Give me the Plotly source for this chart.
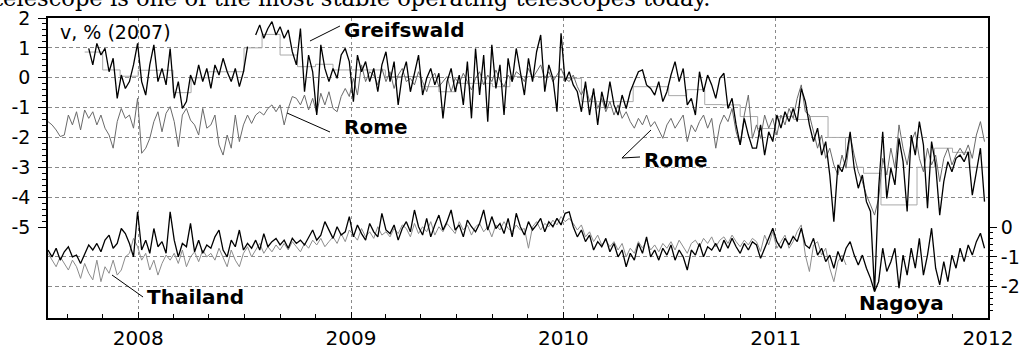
import pandas as pd
import plotly.graph_objects as go

# ---------------- data (weekly samples) ----------------
weeks = pd.date_range("2007-07-30", periods=231, freq="7D")

# Greifswald, v % relative to 2007 (left axis)
greifswald = [None] * 10 + [
    0.98, 0.43, 1.15, 0.76, 0.98, 0.20, 0.65, -0.69, 0.09, -0.36,
    -0.13, 0.43, 1.15, -0.13, -0.58, 0.43, 1.10, -0.13, 0.31, -0.24,
    0.98, -0.69, -0.13, -1.03, -0.80, 0.09, -0.24, 0.43, -0.13, 0.31,
    -0.36, 0.43, 0.09, 0.65, 0.20, -0.13, 0.31, -0.30, 0.20, 1.04,
    None, 1.43, 1.77, 1.32, 1.65, 1.88, 1.43, 1.71, 1.32, 1.60,
    0.87, 0.43, 1.65, -0.47, 0.76, 0.20, -1.25, 1.10, 0.31, -0.13,
    0.31, -0.02, 0.76, 0.98, 0.54, -0.80, 0.76, 0.20, 0.54, -0.13,
    0.31, -0.47, 0.43, 0.87, -0.13, 0.54, -0.91, 0.09, 0.54, -0.47,
    0.20, 0.76, -0.58, -0.02, 0.31, -0.24, 0.15, -1.36, -0.13, 0.31,
    -0.47, 0.09, -0.91, 0.54, -1.36, 0.98, -0.58, 0.76, -1.47, 1.10,
    -0.36, 0.43, -1.25, 0.65, -0.13, 0.98, 0.20, -0.58, 0.65, -0.13,
    0.87, 1.43, -0.47, 0.43, -0.02, -1.14, 1.49, -0.13, 0.20, -0.24,
    -0.47, -1.14, -0.13, -1.25, -0.36, -1.58, -0.47, -1.03, -0.13, -0.91,
    -1.25, -0.58, -1.03, -0.47, -0.13, 0.20, 0.26, -0.24, -0.36, -0.58,
    -0.13, -0.80, -0.47, 0.09, 0.54, -0.13, 0.31, -0.91, -0.69, -1.25,
    0.20, -0.47, 0.09, -0.24, -0.69, -0.02, 0.15, -1.03, -0.69, -1.58,
    -2.25, -1.36, -1.92, -2.36, -2.36, -1.58, -2.59, -1.81, -2.14, -1.25,
    -1.69, -1.14, -1.47, -1.03, -1.47, -0.36, -0.80, -1.58, -2.14, -1.69,
    -2.59, -2.14, -3.26, -4.82, -2.92, -3.15, -2.70, -1.81, -3.03, -3.70,
    -3.26, -4.15, -4.48, -7.16, -3.70, -1.81, -4.04, -3.03, -3.59, -2.03,
    -2.81, -4.48, -1.92, -2.59, -1.47, -2.25, -4.37, -2.14, -2.92, -4.60,
    -3.48, -2.81, -3.15, -2.70, -2.59, -2.81, -2.48, -3.93, -3.15, -2.36,
    -4.15,
]

# Rome, v % relative to 2007 (left axis)
rome = [
    -1.47, -1.58, -1.75, -1.97, -1.92, -1.25, -1.58, -1.14, -1.75, -1.08,
    -1.36, -1.14, -1.58, -1.25, -1.69, -1.92, -2.36, -1.47, -1.03, -1.36,
    -1.25, -1.69, -0.69, -2.53, -2.36, -2.03, -1.47, -1.14, -1.81, -1.19,
    -0.97, -1.47, -2.31, -1.25, -1.03, -1.42, -1.58, -1.92, -1.03, -1.69,
    -1.58, -1.25, -2.25, -2.59, -1.92, -2.36, -1.25, -2.14, -1.58, -1.25,
    -1.53, -1.25, -1.14, -1.25, -1.03, -0.91, -1.14, -0.91, -1.58, -1.03,
    -0.63, -0.69, -0.91, -0.58, -1.08, -0.69, -1.19, -0.52, -0.91, -0.47,
    -1.03, -1.14, -0.63, -0.36, -0.63, -0.02, -0.58, 0.43, -0.13, 0.20,
    0.09, -0.24, 0.31, -0.13, 0.20, -0.36, 0.09, 0.31, -0.13, -0.02,
    -0.24, 0.20, -0.13, -0.47, -0.02, 0.15, -0.30, -0.13, 0.04, -0.47,
    -0.02, -0.19, 0.15, -0.13, -0.41, -0.02, 0.20, -0.24, 0.09, -0.13,
    0.26, -0.08, -0.30, 0.09, -0.13, 0.20, 0.09, -0.13, 0.31, -0.02,
    0.20, 0.43, -0.02, 0.20, -0.13, 0.09, 0.31, -0.02, -0.13, 0.09,
    -0.30, -0.58, -0.24, -0.80, -0.47, -1.03, -0.69, -1.14, -0.80, -1.25,
    -0.91, -1.36, -1.14, -1.47, -1.69, -1.36, -1.58, -1.25, -1.64, -1.47,
    -1.75, -2.03, -1.58, -1.36, -1.69, -1.47, -1.25, -2.14, -1.58, -1.81,
    -1.47, -1.25, -1.69, -1.36, -2.36, -1.58, -1.25, -1.47, -1.03, -1.81,
    -2.25, -1.25, -0.58, -2.03, -1.58, -2.03, -1.25, -1.69, -1.36, -1.92,
    -1.25, -1.58, -1.03, -1.36, -0.69, -0.24, -1.14, -1.25, -1.81, -2.36,
    -1.92, -2.70, -2.36, -2.92, -3.26, -2.59, -3.03, -1.92, -2.59, -3.15,
    -3.48, -3.93, -4.26, -4.60, -4.04, -2.70, -3.26, -2.36, -3.03, -1.58,
    -2.36, -2.92, -2.14, -1.81, -2.70, -3.15, -2.36, -2.92, -2.59, -3.48,
    -2.70, -2.36, -2.92, -2.59, -2.36, -2.59, -2.25, -2.70, -1.92, -1.47,
    -2.14,
]

# Nagoya, v % (right axis)
nagoya = [
    -0.77, -1.00, -0.71, -1.11, -0.83, -0.66, -1.00, -0.94, -1.22, -0.88,
    -0.60, -0.77, -0.55, -0.83, -0.44, -0.27, -0.71, -0.55, -0.05, -0.22,
    -0.55, -1.00, 0.51, -0.77, -0.44, -0.88, -0.05, -0.66, -0.49, -0.88,
    0.51, -0.44, -1.00, -0.55, -0.66, 0.12, -0.83, -0.44, -0.88, -0.60,
    -0.71, -0.33, -0.10, -0.77, -1.00, -0.44, -0.66, -0.10, -0.77, -0.55,
    -0.71, -0.44, -0.77, -0.22, -0.66, -0.49, -0.38, -0.60, -0.44, -0.71,
    -0.38, -0.55, -0.44, -0.60, -0.33, -0.10, -0.44, -0.27, 0.18, -0.10,
    -0.38, 0.01, -0.27, -0.16, 0.35, -0.33, 0.07, -0.22, -0.44, 0.12,
    -0.16, -0.33, 0.46, -0.10, -0.22, 0.07, -0.44, -0.05, 0.18, -0.16,
    0.57, 0.01, -0.27, 0.29, -0.33, 0.07, 0.40, -0.10, 0.18, 0.57,
    -0.10, 0.07, -0.33, 0.23, 0.01, -0.16, 0.12, 0.57, -0.10, 0.35,
    -0.05, 0.12, -0.22, 0.29, -0.33, 0.46, 0.01, -0.27, 0.18, -0.10,
    0.07, 0.29, -0.16, 0.18, 0.01, 0.29, 0.07, 0.46, 0.51, 0.01,
    -0.33, -0.10, -0.49, -0.27, -0.77, -0.49, -0.66, -0.38, -0.83, -0.55,
    -1.00, -0.77, -1.33, -0.88, -1.11, -0.55, -0.88, -0.33, -1.00, -0.77,
    -1.11, -0.71, -0.94, -0.60, -1.11, -0.77, -1.00, -1.44, -0.77, -0.94,
    -0.55, -1.00, -0.66, -0.77, -0.55, -0.83, -0.44, -0.71, -0.38, -0.66,
    -0.88, -0.55, -0.77, -0.49, -0.60, -1.05, -0.71, -0.38, -0.04, -0.49,
    -0.71, -0.38, -0.60, -0.32, -0.49, -0.04, -0.60, -0.71, -0.38, -0.94,
    -0.71, -1.16, -0.94, -1.38, -0.82, -1.16, -0.71, -0.49, -0.94, -1.27,
    -0.94, -1.38, -1.72, -2.16, -1.83, -0.71, -1.49, -1.16, -0.71, -2.05,
    -0.94, -1.61, -0.71, -1.38, -0.38, -1.61, -0.94, -0.04, -1.38, -1.94,
    -1.16, -1.83, -0.94, -1.38, -0.71, -1.16, -0.60, -0.94, -0.49, -0.21,
    -0.71,
]

# Thailand, v % (right axis)
thailand = [
    -0.88, -1.11, -1.33, -1.00, -1.22, -1.44, -1.11, -1.33, -1.72, -1.22,
    -1.55, -1.77, -1.11, -1.83, -1.33, -1.55, -1.11, -1.61, -1.44, -1.00,
    -0.88, -0.38, -0.66, -1.11, -0.88, -1.44, -1.11, -1.61, -1.22, -0.94,
    -1.11, -0.88, -1.22, -0.77, -1.33, -1.00, -0.83, -1.16, -0.77, -1.00,
    -0.88, -1.11, -0.71, -1.00, -1.33, -0.77, -1.11, -1.33, -0.88, -0.66,
    -1.00, -0.77, -0.55, -0.88, -0.66, -0.83, -0.60, -0.77, -0.55, -0.77,
    -0.49, -0.66, -0.83, -0.55, -0.71, -0.44, -0.60, -0.38, -0.66, -0.49,
    -0.33, -0.55, -0.22, -0.49, -0.10, -0.27, -0.44, -0.05, -0.33, -0.16,
    -0.38, 0.01, -0.27, -0.16, -0.33, -0.05, -0.22, 0.07, -0.05, -0.33,
    0.12, -0.22, 0.01, -0.16, 0.18, -0.27, 0.01, -0.16, 0.12, -0.05,
    -0.22, 0.18, -0.10, 0.07, -0.27, 0.01, 0.12, -0.16, 0.01, -0.33,
    0.07, -0.10, 0.18, -0.05, -0.16, 0.07, -0.10, -0.05, -0.71, 0.01,
    0.18, -0.10, 0.12, 0.01, 0.23, 0.07, 0.35, 0.18, 0.29, 0.12,
    -0.10, 0.07, -0.33, -0.16, -0.49, -0.27, -0.60, -0.44, -0.66, -0.49,
    -0.77, -0.55, -1.00, -0.71, -0.88, -0.49, -0.71, -0.44, -0.77, -0.60,
    -0.83, -0.55, -0.71, -0.49, -0.77, -0.44, -0.66, -0.88, -0.55, -0.44,
    -0.66, -0.38, -0.55, -0.33, -0.66, -0.44, -0.33, -0.55, -0.27, -0.49,
    -0.66, -0.44, -0.60, -0.38, -0.49, -0.82, -0.27, -0.60, -0.15, -0.71,
    -0.49, -0.27, -0.71, -0.49, -0.15, 0.07, -0.94, -1.49, -0.60, -0.49,
    -0.94, -0.71, -1.38, -1.83, -1.16, -0.94, -1.27,
] + [None] * 34

# monthly means drawn as thin steps
months = pd.date_range("2007-10-01", "2012-01-01", freq="MS")
monthly_mean = [
    0.86, 0.26, 0.05,
    0.25, 0.25, -0.5, 0.0, 0.2, 0.2, 1.0, 1.45, 0.76, 0.37, 0.45, 0.26,
    0.26, 0.26, 0.04, 0.04, -0.3, -0.47, -0.19, -0.19, -0.3, 0.04, 0.04, 0.04,
    -0.02, -0.8, -0.8, -0.8, -0.3, -0.3, -0.6, -0.4, -0.9, -0.91, -1.3, -1.7,
    -1.3, -1.4, -1.3, -2.0, -3.0, -3.2, -4.26, -4.26, -3.0, -2.36, -2.5, -3.0,
    -3.0,
]

year_ticks = ["2008-01-01", "2009-01-01", "2010-01-01", "2011-01-01", "2012-01-01"]
year_labels = ["2008", "2009", "2010", "2011", "2012"]
left_ticks = [2, 1, 0, -1, -2, -3, -4, -5]
left_labels = ["2", "1", "0", "-1", "-2", "-3", "-4", "-5"]
right_ticks = [0, -1, -2]
right_labels = ["0", "-1", "-2"]

# ---------------- figure ----------------
W, H = 1022, 349
L, R, T, B = 48, 34, 18, 31
PW, PH = W - L - R, H - T - B


def px(x):
    return (x - L) / PW


def py(y):
    return (H - B - y) / PH


fig = go.Figure()
fig.add_trace(go.Scatter(x=months, y=monthly_mean, mode="lines",
                         line=dict(color="#aaaaaa", width=1, shape="hv"),
                         yaxis="y", hoverinfo="skip"))
fig.add_trace(go.Scatter(x=weeks, y=thailand, mode="lines",
                         line=dict(color="#8c8c8c", width=1), yaxis="y2"))
fig.add_trace(go.Scatter(x=weeks, y=nagoya, mode="lines",
                         line=dict(color="#000000", width=1.3), yaxis="y2"))
fig.add_trace(go.Scatter(x=weeks, y=rome, mode="lines",
                         line=dict(color="#6a6a6a", width=1), yaxis="y3"))
fig.add_trace(go.Scatter(x=weeks, y=greifswald, mode="lines",
                         line=dict(color="#000000", width=1.3), yaxis="y3"))

y_range = [2 - (PH / 29.86), 2.0]
y2_range = [y_range[0] + 5, y_range[1] + 5]

minor_left = [round(2 - 0.2 * k, 2) for k in range(1, 35) if k % 5]
minor_right = [round(-0.2 * k, 2) for k in range(1, 15) if k % 5]

fig.update_layout(
    width=W, height=H,
    margin=dict(l=L, r=R, t=T, b=B),
    paper_bgcolor="white", plot_bgcolor="white",
    showlegend=False,
    font=dict(family="DejaVu Sans", color="black"),
    xaxis=dict(
        type="date", range=["2007-07-30", "2012-01-01"],
        tickmode="array", tickvals=year_ticks, ticktext=year_labels,
        tickfont=dict(size=20, color="black"),
        ticks="inside", ticklen=6, tickcolor="black", tickwidth=1,
        showgrid=True, gridcolor="#8a8a8a", gridwidth=1, griddash="3px,3px",
        minor=dict(dtick="M2", tick0="2007-09-01", ticks="inside", ticklen=4,
                   tickcolor="black", showgrid=False),
        showline=True, linecolor="black", linewidth=2, mirror=True,
        zeroline=False, automargin=False, ticklabelstandoff=1,
    ),
    yaxis=dict(
        range=y_range, tickmode="array", tickvals=left_ticks, ticktext=left_labels,
        tickfont=dict(size=19, color="black"),
        ticks="outside", ticklen=8, tickcolor="black",
        minor=dict(tickmode="array", tickvals=minor_left, ticks="outside",
                   ticklen=4, tickcolor="black", showgrid=False),
        showgrid=False, zeroline=False,
        showline=True, linecolor="black", linewidth=1.5, mirror=True,
        automargin=False, ticklabelstandoff=4,
    ),
    yaxis2=dict(
        overlaying="y", side="right", range=y2_range,
        tickmode="array", tickvals=right_ticks, ticktext=right_labels,
        tickfont=dict(size=19, color="black"),
        ticks="outside", ticklen=8, tickcolor="black",
        minor=dict(tickmode="array", tickvals=minor_right, ticks="outside",
                   ticklen=4, tickcolor="black", showgrid=False),
        showgrid=False, zeroline=False, showline=False, automargin=False,
        ticklabelstandoff=0,
    ),
    yaxis3=dict(
        overlaying="y", range=y_range,
        tickmode="array", tickvals=[1, 0, -1, -2, -3, -4, -6, -7],
        showticklabels=False, ticks="",
        showgrid=True, gridcolor="#8a8a8a", gridwidth=1, griddash="4px,3px",
        zeroline=False, showline=False, automargin=False,
    ),
)

label_font = dict(family="DejaVu Sans", size=20, color="black")
notes = [
    ("<b>Greifswald</b>", 342, 30),
    ("<b>Rome</b>", 342, 127),
    ("<b>Rome</b>", 642, 160),
    ("<b>Thailand</b>", 145, 297),
    ("<b>Nagoya</b>", 857, 303),
]
for text, x, y in notes:
    fig.add_annotation(text=text, xref="paper", yref="paper", x=px(x), y=py(y),
                       xanchor="left", yanchor="middle", showarrow=False,
                       font=label_font)

fig.add_annotation(text="v, % (2007)", xref="paper", yref="paper",
                   x=px(58), y=py(32), xanchor="left", yanchor="middle",
                   showarrow=False, font=dict(family="DejaVu Sans", size=19, color="black"))

fig.add_annotation(text="telescope is one of the most stable operating telescopes today.",
                   xref="paper", yref="paper", x=px(-8), y=py(-2),
                   xanchor="left", yanchor="middle", showarrow=False,
                   font=dict(family="DejaVu Serif", size=22.6, color="black"))

leaders = [
    [(340, 26), (310, 41)],
    [(330, 132), (287, 113)],
    [(640, 157), (622, 158), (651, 130)],
    [(143, 297), (112, 275)],
]
for pts in leaders:
    path = "M " + " L ".join(f"{px(a):.4f},{py(b):.4f}" for a, b in pts)
    fig.add_shape(type="path", path=path, xref="paper", yref="paper",
                  line=dict(color="black", width=1))

fig.write_html("out.html", config={"displayModeBar": False},
               post_script="document.body.style.margin='0px';document.body.style.overflow='hidden';")
